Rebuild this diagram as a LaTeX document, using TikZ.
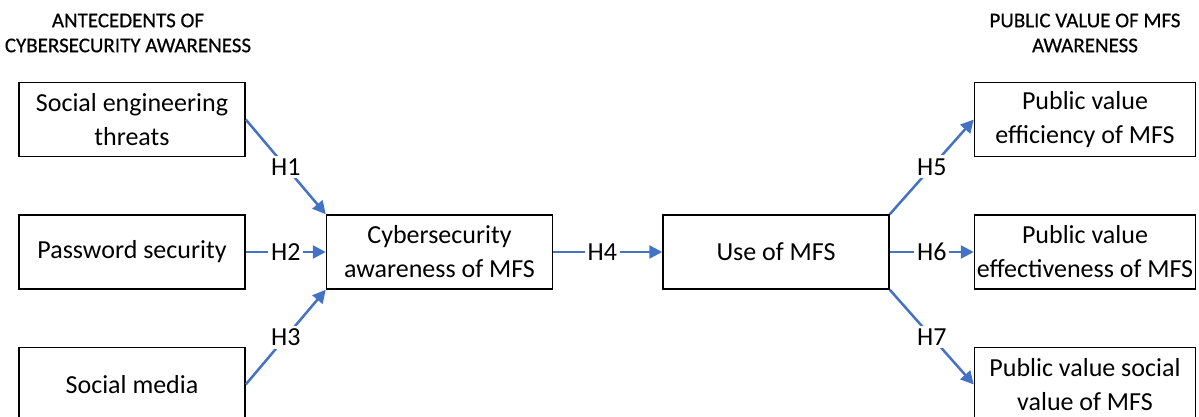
\documentclass[tikz,border=0pt]{standalone}
\usepackage{fontspec}
\setmainfont{Carlito}
\newfontfamily\headfont[FakeBold=0.5]{Carlito}
\usetikzlibrary{arrows.meta, positioning}
\definecolor{cblue}{HTML}{4472C4}
\tikzset{
  every picture/.style={line width=1.5pt},
  box/.style={draw=black, minimum width=226pt, minimum height=74pt, align=center, inner sep=0pt, font=\fontsize{26}{34}\selectfont},
  rbox/.style={box, minimum width=221pt},
  arrow/.style={-{Triangle[length=13pt, width=13pt]}, draw=cblue, line width=2.5pt},
  hlabel/.style={fill=white, inner sep=3pt, font=\fontsize{26}{28}\selectfont},
  head/.style={align=center, font=\headfont\fontsize{21}{25}\selectfont},
}

\begin{document}
\begin{tikzpicture}[node distance=57pt and 80pt]
  \useasboundingbox (0,0) rectangle (1199pt,-417pt);
  % antecedents
  \node[box] (pwd) at (132pt,-252pt) {Password security};
  \node[box, above=of pwd] (soceng) {Social engineering\\threats};
  \node[box, below=of pwd] (socmed) {Social media};
  % awareness and use
  \node[box, right=of pwd] (aware) {Cybersecurity\\awareness of MFS};
  \node[box, right=109pt of aware] (use) {Use of MFS};
  % public value
  \node[rbox, right=84pt of use] (effect) {Public value\\effectiveness of MFS};
  \node[rbox, above=of effect] (effic) {Public value\\efficiency of MFS};
  \node[rbox, below=of effect] (social) {Public value social\\value of MFS};
  % headings
  \node[head] at (128pt,-33pt) {ANTECEDENTS OF\\CYBERSECURITY AWARENESS};
  \node[head] at (effic |- 0,-33pt) {PUBLIC VALUE OF MFS\\AWARENESS};
  % hypotheses
  \draw[arrow] (soceng.east) -- node[hlabel] {H1} (aware.north west);
  \draw[arrow] (pwd) -- node[hlabel] {H2} (aware);
  \draw[arrow] (socmed.east) -- node[hlabel] {H3} (aware.south west);
  \draw[arrow] (aware) -- node[hlabel, pos=0.45] {H4} (use);
  \draw[arrow] (use.north east) -- node[hlabel] {H5} (effic.west);
  \draw[arrow] (use) -- node[hlabel] {H6} (effect);
  \draw[arrow] (use.south east) -- node[hlabel] {H7} (social.west);
\end{tikzpicture}
\end{document}
